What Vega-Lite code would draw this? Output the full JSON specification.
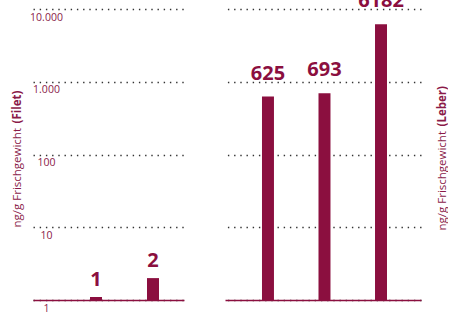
{
  "$schema": "https://vega.github.io/schema/vega-lite/v6.json",
  "autosize": {"type": "pad"},
  "padding": {"left": 10, "top": -9, "right": 0, "bottom": 0},
  "background": "white",
  "spacing": 41,
  "bounds": "flush",
  "config": {
    "locale": {"number": {"decimal": ",", "thousands": ".", "grouping": [3], "currency": ["", " €"]}},
    "view": {"stroke": null},
    "font": "Open Sans",
    "axis": {"labelFont": "Open Sans", "titleFont": "Open Sans"}
  },
  "datasets": {
    "filet": [
      {"art": "Aal", "wert": 1.1, "label": "1"},
      {"art": "Barsch", "wert": 2, "label": "2"}
    ],
    "leber": [
      {"art": "Aal", "wert": 625, "label": "625"},
      {"art": "Barsch", "wert": 693, "label": "693"},
      {"art": "Zander", "wert": 6182, "label": "6182"}
    ]
  },
  "hconcat": [
    {
      "width": 151,
      "height": 291,
      "data": {"name": "filet"},
      "encoding": {
        "x": {
          "field": "art", "type": "nominal", "sort": null,
          "scale": {"paddingInner": 0.789, "paddingOuter": 0.719, "align": 0.695},
          "axis": {"title": null, "domain": true, "domainColor": "#8b0f3f", "domainWidth": 1.6, "ticks": false, "labelPadding": 13, "labelFontSize": 10, "labelColor": "#8a1a48", "labelAngle": 0}
        }
      },
      "layer": [
        {
          "mark": {"type": "bar", "color": "#8b0f3f"},
          "encoding": {
            "y": {
              "field": "wert", "type": "quantitative",
              "scale": {"type": "log", "domain": [1, 10000], "nice": false},
              "axis": {
                "orient": "left",
                "title": "ng/g Frischgewicht", "values": [1, 10, 100, 1000, 10000], "format": ",",
                "grid": true, "gridColor": "#333333", "gridDash": [1.4, 4.8], "gridWidth": 1.4,
                "domain": false, "ticks": false, "tickSize": 0,
                "labelPadding": -13, "labelAlign": "center", "labelBaseline": "top", "labelOffset": 3,
                "labelFlush": false, "labelOverlap": false, "labelFontSize": 10.5, "labelColor": "#8a1a48",
                "titleFontSize": 11.5, "titleFontWeight": "normal", "titleColor": "#8a1a48",
                "titleAngle": 270, "titleX": -16, "titleY": 218, "titleAlign": "left", "titleBaseline": "middle"
              }
            },
            "y2": {"datum": 1}
          }
        },
        {
          "mark": {"type": "text", "font": "Open Sans", "fontWeight": "bold", "fontSize": 20, "color": "#8b0f3f", "baseline": "alphabetic", "dy": -11},
          "encoding": {
            "y": {
              "field": "wert", "type": "quantitative",
              "axis": {
                "orient": "left",
                "title": "(Filet)", "labels": false, "ticks": false, "domain": false, "grid": false,
                "titleFontSize": 11.5, "titleFontWeight": "bold", "titleColor": "#8a1a48",
                "titleAngle": 270, "titleX": -16, "titleY": 114, "titleAlign": "left", "titleBaseline": "middle"
              }
            },
            "text": {"field": "label"}
          }
        }
      ],
      "resolve": {"axis": {"y": "independent"}}
    },
    {
      "width": 196,
      "height": 291,
      "data": {"name": "leber"},
      "encoding": {
        "x": {
          "field": "art", "type": "nominal", "sort": null,
          "scale": {"paddingInner": 0.788, "paddingOuter": 0.628, "align": 0.521},
          "axis": {"title": null, "domain": true, "domainColor": "#8b0f3f", "domainWidth": 1.6, "ticks": false, "labelPadding": 13, "labelFontSize": 10, "labelColor": "#8a1a48", "labelAngle": 0}
        }
      },
      "layer": [
        {
          "mark": {"type": "bar", "color": "#8b0f3f"},
          "encoding": {
            "y": {
              "field": "wert", "type": "quantitative",
              "scale": {"type": "log", "domain": [1, 10000], "nice": false},
              "axis": {
                "orient": "right",
                "title": "ng/g Frischgewicht", "values": [1, 10, 100, 1000, 10000],
                "grid": true, "gridColor": "#333333", "gridDash": [1.4, 4.8], "gridWidth": 1.4,
                "domain": false, "ticks": false, "tickSize": 0, "labels": false,
                "titleFontSize": 11.5, "titleFontWeight": "normal", "titleColor": "#8a1a48",
                "titleAngle": 270, "titleX": 21, "titleY": 221, "titleAlign": "left", "titleBaseline": "middle"
              }
            },
            "y2": {"datum": 1}
          }
        },
        {
          "mark": {"type": "text", "font": "Open Sans", "fontWeight": "bold", "fontSize": 20, "color": "#8b0f3f", "baseline": "alphabetic", "dy": -17},
          "encoding": {
            "y": {
              "field": "wert", "type": "quantitative",
              "axis": {
                "orient": "right",
                "title": "(Leber)", "labels": false, "ticks": false, "domain": false, "grid": false,
                "titleFontSize": 11.5, "titleFontWeight": "bold", "titleColor": "#8a1a48",
                "titleAngle": 270, "titleX": 21, "titleY": 117, "titleAlign": "left", "titleBaseline": "middle"
              }
            },
            "text": {"field": "label"}
          }
        }
      ],
      "resolve": {"axis": {"y": "independent"}}
    }
  ]
}
